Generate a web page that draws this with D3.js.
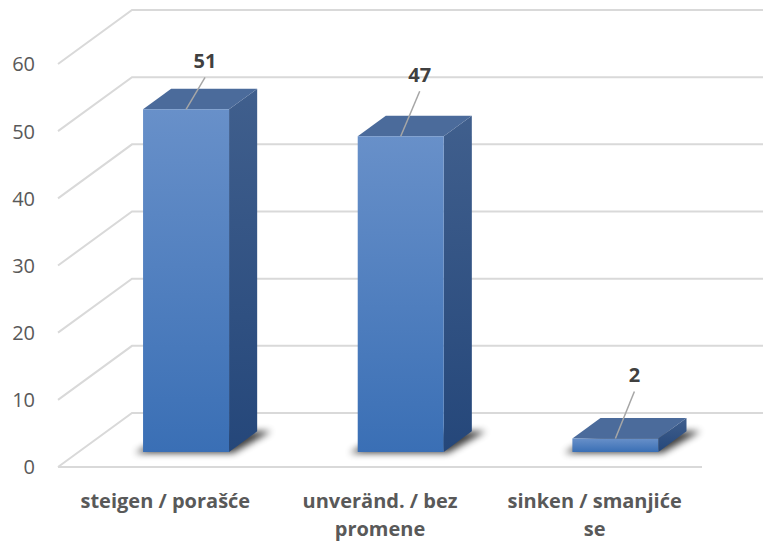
<!DOCTYPE html>
<html lang="sr">
<head>
  <meta charset="UTF-8">
  <title>3D column chart</title>
  <script src="https://cdn.jsdelivr.net/npm/d3@7"></script>
  <style>
    body { margin: 0; background: #fff; }
    text { font-family: "Open Sans", "DejaVu Sans", sans-serif; }
  </style>
</head>
<body>
<svg id="chart"></svg>
<script>
// data
var categories = ["steigen / porašće", "unveränd. / bez promene", "sinken / smanjiće se"];
var values = [51, 47, 2];
var yTicks = [0, 10, 20, 30, 40, 50, 60];

var width = 763, height = 542;
var svg = d3.select("#chart").attr("width", width).attr("height", height);

// perspective offset of the floor (full depth)
var DX = 74, DY = 54;
var dFront = 0.28, dBack = 0.66;   // bar position inside the depth
var barW = 86;

var x = d3.scaleBand().domain(categories).range([58, 702]);
var y = d3.scaleLinear().domain([0, 60]).range([467, 64]);

function P(px, py, d) { return [px + DX * d, py - DY * d]; }

var defs = svg.append("defs");
var gf = defs.append("linearGradient").attr("id", "gFront").attr("x1", 0).attr("y1", 0).attr("x2", 0).attr("y2", 1);
gf.append("stop").attr("offset", "0%").attr("stop-color", "#6890c9");
gf.append("stop").attr("offset", "100%").attr("stop-color", "#3a6fb5");
var gs = defs.append("linearGradient").attr("id", "gSide").attr("x1", 0).attr("y1", 0).attr("x2", 0).attr("y2", 1);
gs.append("stop").attr("offset", "0%").attr("stop-color", "#405f8d");
gs.append("stop").attr("offset", "100%").attr("stop-color", "#25477a");
defs.append("filter").attr("id", "blur").attr("x", "-50%").attr("y", "-50%").attr("width", "200%").attr("height", "200%")
  .append("feGaussianBlur").attr("stdDeviation", 3.5);

// gridlines
var grid = svg.append("g");
grid.selectAll("path").data(yTicks).enter().append("path")
  .attr("d", function(t) {
    var a = P(58, y(t), 0), b = P(58, y(t), 1);
    return "M" + a + "L" + b + "L" + [width, b[1]];
  })
  .attr("fill", "none").attr("stroke", "#d9d9d9").attr("stroke-width", 2);
grid.append("line")
  .attr("x1", 58).attr("x2", 702).attr("y1", y(0)).attr("y2", y(0))
  .attr("stroke", "#d9d9d9").attr("stroke-width", 2);

// y labels
svg.append("g").selectAll("text").data(yTicks).enter().append("text")
  .attr("x", 35).attr("y", function(t) { return y(t) + 2; })
  .attr("text-anchor", "end").attr("dominant-baseline", "middle")
  .attr("font-size", 20).attr("fill", "#595959")
  .text(function(t) { return t; });

// bars
var bars = svg.append("g").selectAll("g").data(values).enter().append("g");

function corners(v, i) {
  var x0 = x(categories[i]) + (x.bandwidth() - barW) / 2, x1 = x0 + barW;
  return { x0: x0, x1: x1, yb: y(0), yt: y(v) };
}

// shadow
bars.append("path")
  .attr("d", function(v, i) {
    var c = corners(v, i);
    var p = [P(c.x0 - 8, c.yb + 1, dFront), P(c.x1 + 4, c.yb + 1, dFront), P(c.x1 + 14, c.yb, dBack), P(c.x0 + 2, c.yb, dBack)];
    return "M" + p.join("L") + "Z";
  })
  .attr("fill", "#000").attr("opacity", 0.75).attr("filter", "url(#blur)");

// side face
bars.append("path")
  .attr("d", function(v, i) {
    var c = corners(v, i);
    var p = [P(c.x1, c.yt, dFront), P(c.x1, c.yt, dBack), P(c.x1, c.yb, dBack), P(c.x1, c.yb, dFront)];
    return "M" + p.join("L") + "Z";
  })
  .attr("fill", "url(#gSide)");

// top face
bars.append("path")
  .attr("d", function(v, i) {
    var c = corners(v, i);
    var p = [P(c.x0, c.yt, dFront), P(c.x0, c.yt, dBack), P(c.x1, c.yt, dBack), P(c.x1, c.yt, dFront)];
    return "M" + p.join("L") + "Z";
  })
  .attr("fill", "#4b6b9b");

// front face
bars.append("path")
  .attr("d", function(v, i) {
    var c = corners(v, i);
    var p = [P(c.x0, c.yt, dFront), P(c.x1, c.yt, dFront), P(c.x1, c.yb, dFront), P(c.x0, c.yb, dFront)];
    return "M" + p.join("L") + "Z";
  })
  .attr("fill", "url(#gFront)");

// value labels with leader lines
var lift = [48, 61, 63];
function topMid(v, i) { var c = corners(v, i); return P((c.x0 + c.x1) / 2, c.yt, dFront); }
bars.append("line")
  .attr("x1", function(v, i) { return topMid(v, i)[0]; })
  .attr("y1", function(v, i) { return topMid(v, i)[1]; })
  .attr("x2", function(v, i) { return topMid(v, i)[0] + 19; })
  .attr("y2", function(v, i) { return topMid(v, i)[1] - lift[i] + 16; })
  .attr("stroke", "#a6a6a6").attr("stroke-width", 1.5);
bars.append("text")
  .attr("x", function(v, i) { return topMid(v, i)[0] + 19; })
  .attr("y", function(v, i) { return topMid(v, i)[1] - lift[i] + 7; })
  .attr("text-anchor", "middle").attr("font-size", 20).attr("font-weight", "bold").attr("fill", "#404040")
  .text(function(v) { return v; });

// category labels (wrapped)
var cat = svg.append("g").selectAll("text").data(categories).enter().append("text")
  .attr("x", function(c) { return x(c) + x.bandwidth() / 2; })
  .attr("y", 508)
  .attr("text-anchor", "middle").attr("font-size", 20).attr("font-weight", "bold").attr("fill", "#595959");
cat.each(function(c) {
  var el = d3.select(this), words = c.split(" "), line = [], lines = [];
  var probe = el.append("tspan");
  words.forEach(function(w) {
    line.push(w);
    probe.text(line.join(" "));
    if (probe.node().getComputedTextLength() > 185 && line.length > 1) {
      line.pop(); lines.push(line.join(" ")); line = [w];
    }
  });
  lines.push(line.join(" "));
  probe.remove();
  lines.forEach(function(l, k) {
    el.append("tspan").attr("x", el.attr("x")).attr("dy", k ? 28 : 0).text(l);
  });
});
</script>
</body>
</html>
